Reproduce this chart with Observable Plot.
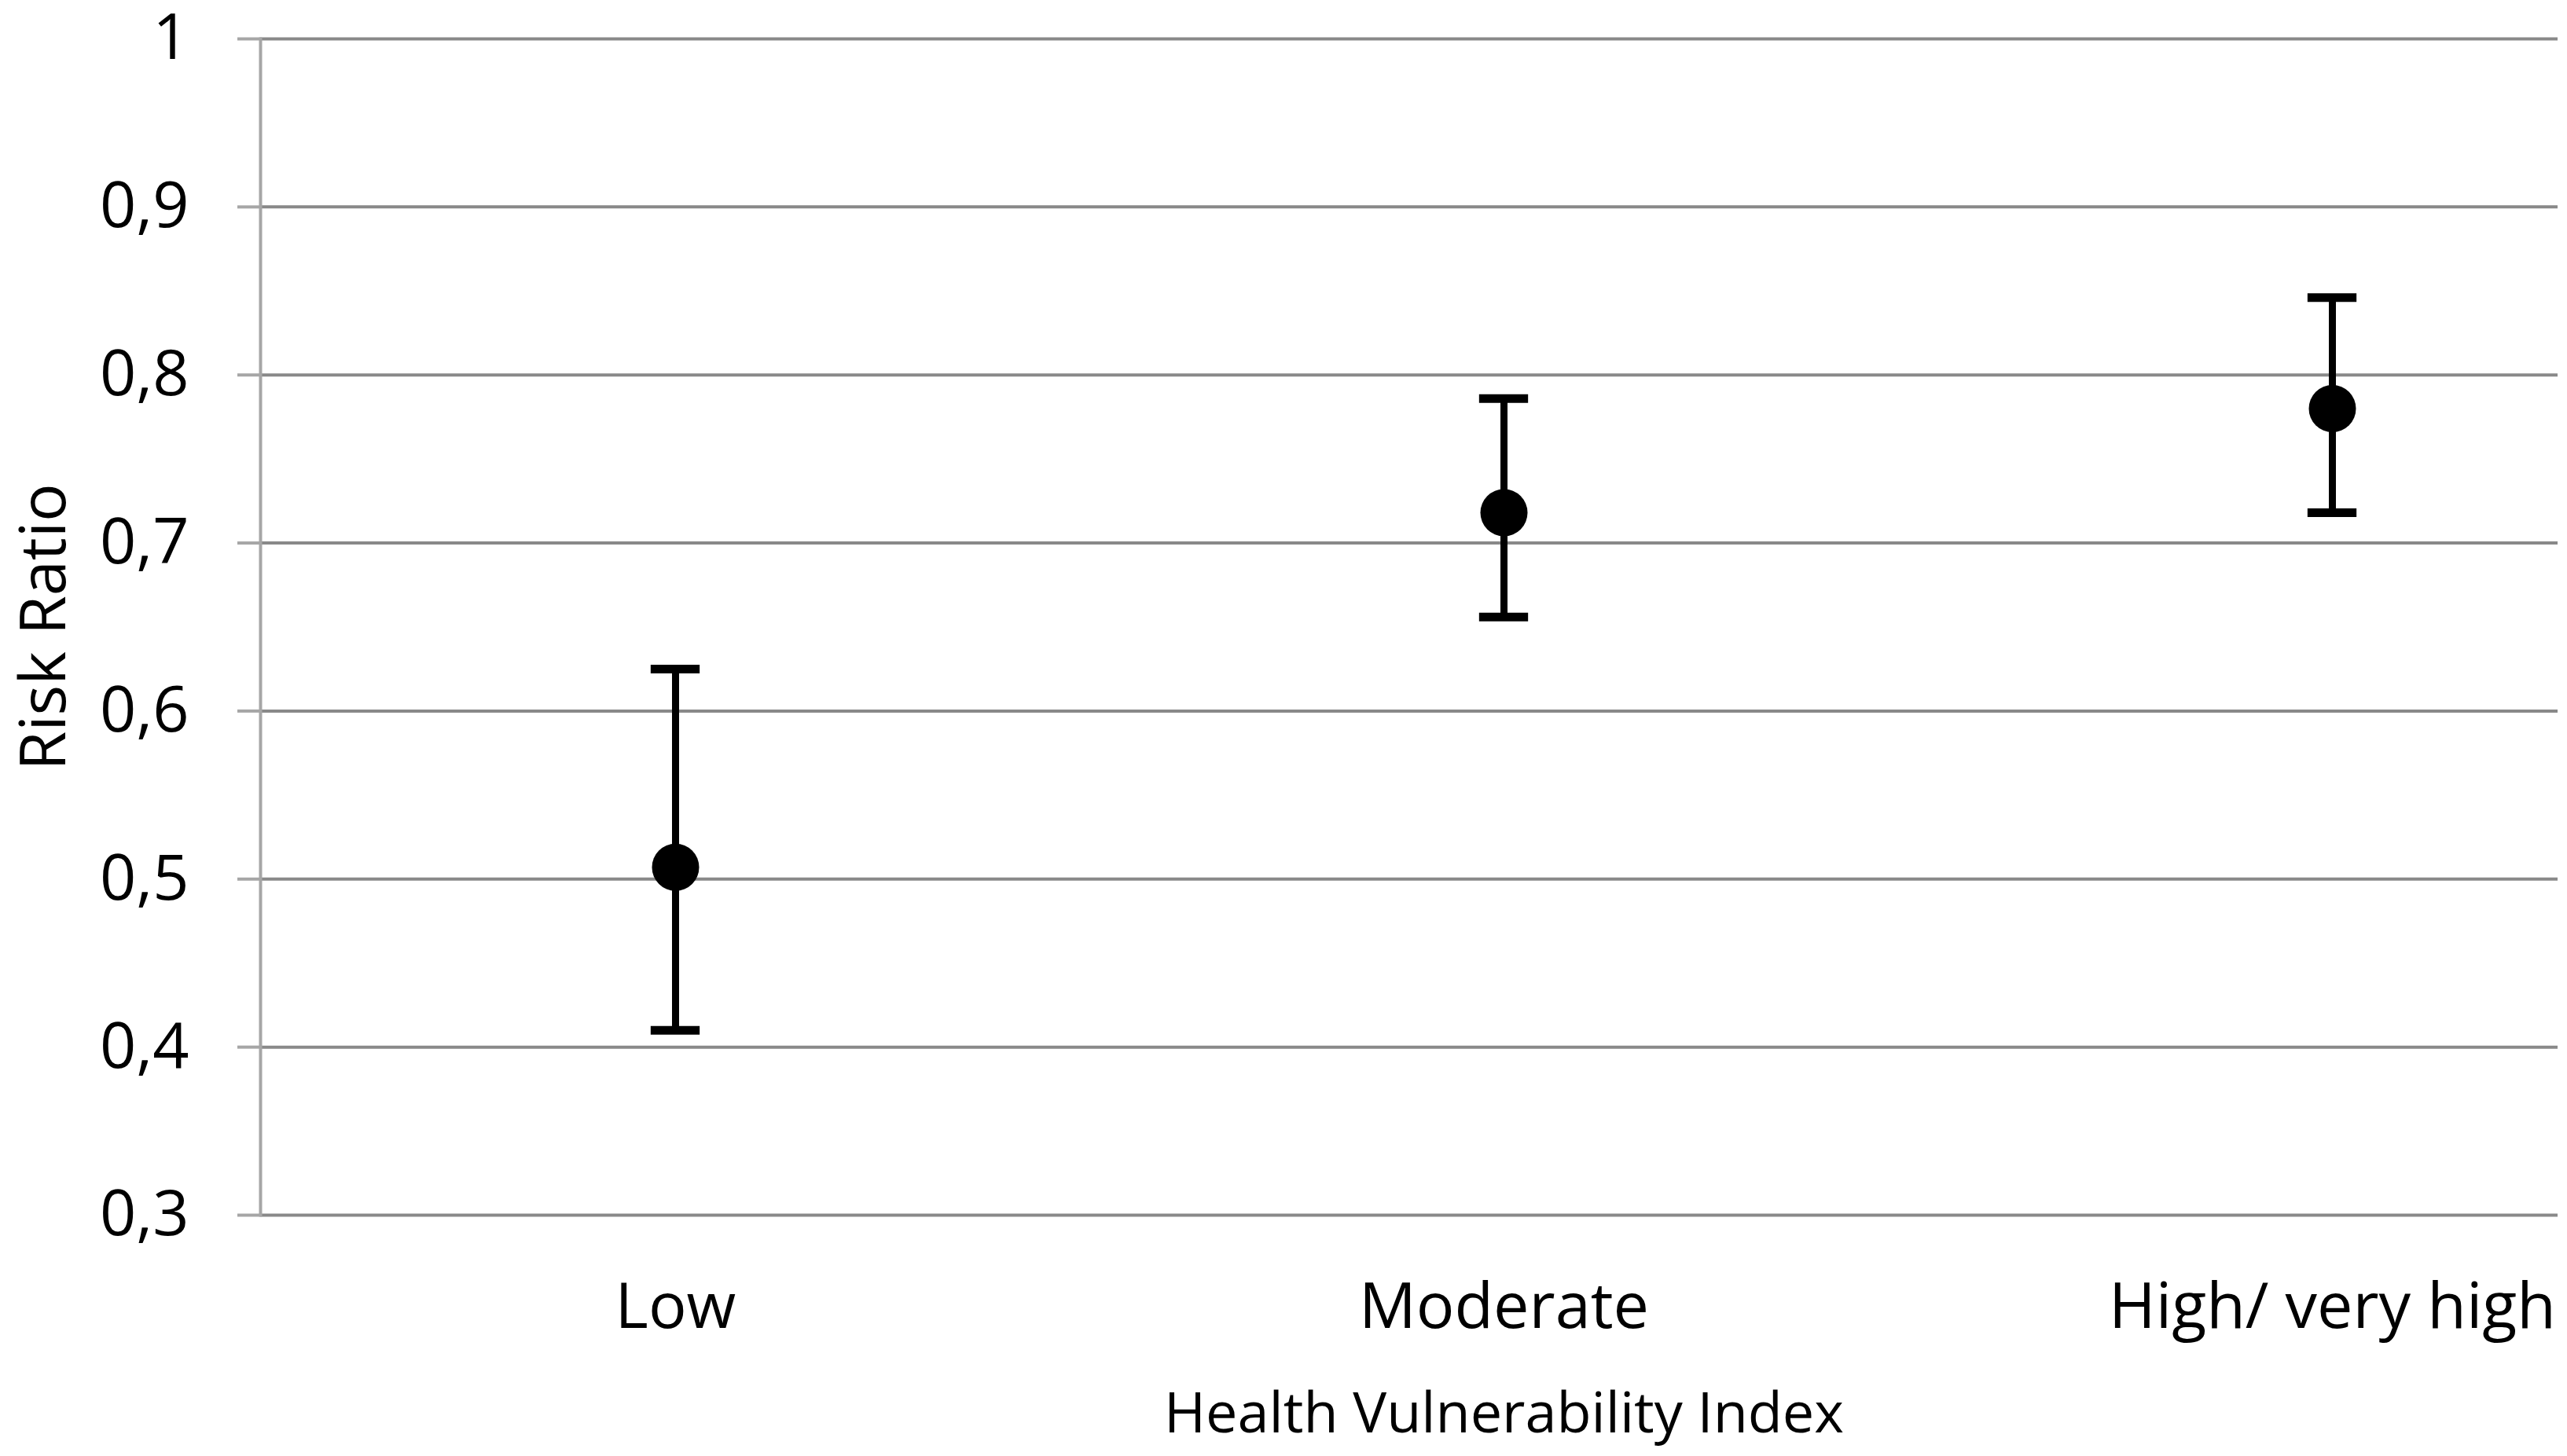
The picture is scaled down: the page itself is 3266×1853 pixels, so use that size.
<!DOCTYPE html>
<html>
<head>
<meta charset="utf-8">
<script src="https://cdn.jsdelivr.net/npm/d3@7"></script>
<script src="https://cdn.jsdelivr.net/npm/@observablehq/plot@0.6"></script>
<style>
  html, body { margin: 0; padding: 0; background: white; }
  svg { display: block; }
</style>
</head>
<body>
<div id="chart"></div>
<script>
// Data
const categories = ["Low", "Moderate", "High/ very high"];
const riskRatio = [0.507, 0.718, 0.780];
const ciLower = [0.410, 0.656, 0.718];
const ciUpper = [0.625, 0.786, 0.846];
const yTicks = [0.3, 0.4, 0.5, 0.6, 0.7, 0.8, 0.9, 1];
const yTickLabels = ["0,3", "0,4", "0,5", "0,6", "0,7", "0,8", "0,9", "1"];
const xTitle = "Health Vulnerability Index";
const yTitle = "Risk Ratio";

const data = categories.map((c, i) => ({cat: c, rr: riskRatio[i], lo: ciLower[i], hi: ciUpper[i]}));

const W = 3266, H = 1853;
const mLeft = 331, mRight = 12, mTop = 49, mBottom = 307;
const xRange = [331, 3495];
const bandW = (xRange[1] - xRange[0]) / categories.length;
const capW = 63;
const capInset = (bandW - capW) / 2;

const chart = Plot.plot({
  width: W,
  height: H,
  marginLeft: mLeft,
  marginRight: mRight,
  marginTop: mTop,
  marginBottom: mBottom,
  style: {fontFamily: "'Open Sans', sans-serif", background: "white", color: "black", overflow: "visible"},
  x: {type: "band", domain: categories, range: xRange, padding: 0},
  y: {domain: [0.3, 1]},
  marks: [
    Plot.gridY(yTicks, {stroke: "#898989", strokeOpacity: 1, strokeWidth: 4}),
    Plot.frame({anchor: "left", stroke: "#a6a6a6", strokeWidth: 4}),
    Plot.axisY({
      ticks: yTicks,
      tickFormat: d => yTickLabels[yTicks.indexOf(d)],
      tickSize: 29,
      tickPadding: 62,
      fontSize: 81,
      stroke: "#a6a6a6",
      strokeWidth: 4,
      label: null
    }),
    Plot.axisX({
      tickSize: 0,
      tickPadding: 86,
      fontSize: 81,
      label: null
    }),
    Plot.ruleX(data, {x: "cat", y1: "lo", y2: "hi", stroke: "black", strokeWidth: 9}),
    Plot.tickY(data, {x: "cat", y: "lo", stroke: "black", strokeWidth: 11, inset: capInset}),
    Plot.tickY(data, {x: "cat", y: "hi", stroke: "black", strokeWidth: 11, inset: capInset}),
    Plot.dot(data, {x: "cat", y: "rr", r: 30, fill: "black", stroke: null}),
    Plot.text([xTitle], {x: () => categories[1], text: d => d, frameAnchor: "bottom", textAnchor: "middle", lineAnchor: "bottom", dy: 276, fontSize: 72, fill: "black"}),
    Plot.text([yTitle], {text: d => d, frameAnchor: "left", textAnchor: "middle", rotate: -90, lineAnchor: "bottom", dx: -249, fontSize: 81, fill: "black"})
  ]
});
document.getElementById("chart").appendChild(chart);
</script>
</body>
</html>
